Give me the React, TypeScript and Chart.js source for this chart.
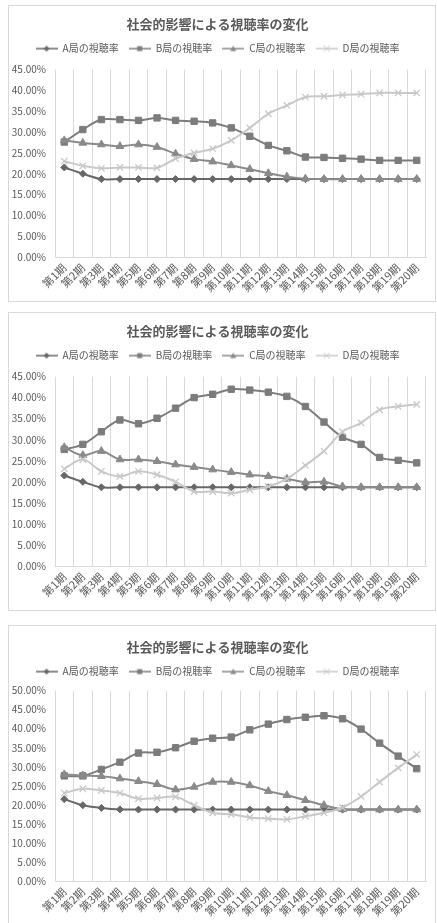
import { useEffect, useRef } from "react";
import { Chart, registerables } from "chart.js";

Chart.register(...registerables);

const FONT = '"Noto Sans CJK JP", "Noto Sans", sans-serif';
const TEXT = "#595959";
const GRID = "#d9d9d9";

const chartTitle = "社会的影響による視聴率の変化";
const seriesNames = ["A局の視聴率", "B局の視聴率", "C局の視聴率", "D局の視聴率"];
const periods = [
  "第1期", "第2期", "第3期", "第4期", "第5期", "第6期", "第7期", "第8期", "第9期", "第10期",
  "第11期", "第12期", "第13期", "第14期", "第15期", "第16期", "第17期", "第18期", "第19期", "第20期",
];

// Scenario 1
const a1 = [21.5, 20.0, 18.7, 18.7, 18.7, 18.7, 18.7, 18.7, 18.7, 18.7, 18.7, 18.7, 18.7, 18.7, 18.7, 18.7, 18.7, 18.7, 18.7, 18.7];
const b1 = [27.6, 30.6, 33.0, 33.0, 32.8, 33.4, 32.8, 32.6, 32.2, 31.0, 29.0, 26.8, 25.5, 24.0, 23.9, 23.7, 23.5, 23.2, 23.2, 23.2];
const c1 = [28.0, 27.4, 27.0, 26.6, 27.0, 26.4, 24.8, 23.5, 22.9, 22.0, 21.1, 20.1, 19.3, 18.8, 18.7, 18.7, 18.7, 18.7, 18.7, 18.7];
const d1 = [23.0, 21.9, 21.3, 21.5, 21.5, 21.4, 23.6, 25.0, 26.0, 28.0, 31.0, 34.4, 36.4, 38.4, 38.6, 38.9, 39.1, 39.4, 39.4, 39.4];

// Scenario 2
const a2 = [21.5, 20.0, 18.7, 18.7, 18.7, 18.7, 18.7, 18.7, 18.7, 18.7, 18.7, 18.7, 18.7, 18.7, 18.7, 18.7, 18.7, 18.7, 18.7, 18.7];
const b2 = [27.7, 28.9, 31.9, 34.7, 33.8, 35.1, 37.5, 40.0, 40.8, 42.0, 41.8, 41.3, 40.3, 37.9, 34.2, 30.6, 28.9, 25.8, 25.1, 24.5];
const c2 = [28.2, 26.3, 27.3, 25.3, 25.3, 24.9, 24.1, 23.5, 22.9, 22.3, 21.7, 21.3, 20.7, 19.9, 20.0, 18.9, 18.7, 18.7, 18.7, 18.7];
const d2 = [23.1, 25.3, 22.5, 21.3, 22.5, 21.7, 20.0, 17.7, 17.7, 17.3, 18.1, 18.9, 20.7, 23.9, 27.3, 31.9, 34.0, 37.1, 37.9, 38.4];

// Scenario 3
const a3 = [21.5, 19.9, 19.2, 18.8, 18.75, 18.75, 18.75, 18.75, 18.75, 18.75, 18.75, 18.75, 18.75, 18.75, 18.75, 18.75, 18.75, 18.75, 18.75, 18.75];
const b3 = [27.6, 27.6, 29.3, 31.2, 33.6, 33.8, 35.0, 36.7, 37.5, 37.8, 39.7, 41.2, 42.4, 43.0, 43.4, 42.6, 39.9, 36.2, 32.8, 29.5];
const c3 = [28.0, 27.7, 27.5, 26.9, 26.2, 25.4, 24.0, 24.7, 26.0, 26.0, 25.1, 23.6, 22.5, 21.2, 19.9, 18.8, 18.75, 18.75, 18.75, 18.75];
const d3 = [23.1, 24.2, 23.8, 23.1, 21.6, 21.8, 22.1, 19.9, 17.9, 17.5, 16.7, 16.4, 16.2, 17.0, 17.9, 19.3, 22.2, 26.0, 29.7, 33.2];

const yMaxes = [45, 45, 50];
const yStep = 5;

const colors = ["#676767", "#7c7c7c", "#8a8a8a", "#c8c8c8"];
const markers = ["rectRot", "rect", "triangle", "crossRot"];
const radii = [3.5, 4.5, 4.5, 4.5];

// Adds extra space between the legend row and the plot area.
const legendGap = {
  id: "legendGap",
  beforeLayout(chart: any, _args: any, opts: any) {
    const legend = chart.legend;
    if (legend && !legend.__gapPatched) {
      const fit = legend.fit.bind(legend);
      legend.fit = function () {
        fit();
        this.height += opts.gap || 0;
      };
      legend.__gapPatched = true;
    }
  },
};

function makeLegendIcon(color: string, marker: string): HTMLCanvasElement {
  const c = document.createElement("canvas");
  c.width = 22;
  c.height = 10;
  const g = c.getContext("2d")!;
  g.strokeStyle = color;
  g.fillStyle = color;
  g.lineWidth = 1.5;
  g.beginPath();
  g.moveTo(0, 5);
  g.lineTo(22, 5);
  g.stroke();
  const cx = 11;
  const cy = 5;
  g.beginPath();
  if (marker === "rectRot") {
    g.moveTo(cx, cy - 3);
    g.lineTo(cx + 3, cy);
    g.lineTo(cx, cy + 3);
    g.lineTo(cx - 3, cy);
    g.closePath();
    g.fill();
  } else if (marker === "rect") {
    g.fillRect(cx - 2.5, cy - 2.5, 5, 5);
  } else if (marker === "triangle") {
    g.moveTo(cx, cy - 3);
    g.lineTo(cx + 3, cy + 2.5);
    g.lineTo(cx - 3, cy + 2.5);
    g.closePath();
    g.fill();
  } else {
    g.lineWidth = 1;
    g.moveTo(cx - 3, cy - 3);
    g.lineTo(cx + 3, cy + 3);
    g.moveTo(cx + 3, cy - 3);
    g.lineTo(cx - 3, cy + 3);
    g.stroke();
  }
  return c;
}

type PanelProps = {
  top: number;
  boxHeight: number;
  bottomBorder: boolean;
  titleTop: number;
  xAxisHeight: number;
  gap: number;
  yMax: number;
  series: number[][];
};

function RatingChart({ top, boxHeight, bottomBorder, titleTop, xAxisHeight, gap, yMax, series }: PanelProps) {
  const ref = useRef<HTMLCanvasElement | null>(null);
  const canvasHeight = boxHeight - 1 - (bottomBorder ? 1 : 0);

  useEffect(() => {
    if (!ref.current) return;
    const icons = colors.map((c, i) => makeLegendIcon(c, markers[i]));
    const chart = new Chart(ref.current, {
      type: "line",
      data: {
        labels: periods,
        datasets: series.map((vals, i) => ({
          label: seriesNames[i],
          data: vals,
          borderColor: colors[i],
          backgroundColor: colors[i],
          pointBackgroundColor: colors[i],
          pointBorderColor: colors[i],
          pointStyle: markers[i] as any,
          pointRadius: radii[i],
          pointBorderWidth: i === 3 ? 1.3 : 1,
          borderWidth: 2,
          tension: 0.35,
          fill: false,
          order: 3 - i,
        })),
      },
      options: {
        responsive: false,
        animation: false,
        layout: { padding: { top: 0, left: 0, right: 9, bottom: 0 } },
        plugins: {
          tooltip: { enabled: false },
          title: {
            display: true,
            text: chartTitle,
            color: TEXT,
            font: { family: FONT, size: 13, weight: "bold" },
            padding: { top: titleTop, bottom: 2 },
          },
          legend: {
            display: true,
            position: "top",
            labels: {
              usePointStyle: true,
              pointStyleWidth: 22,
              padding: 10,
              color: TEXT,
              font: { family: FONT, size: 10 },
              generateLabels: (ch: any) =>
                ch.data.datasets.map((ds: any, i: number) => ({
                  text: ds.label,
                  pointStyle: icons[i],
                  fillStyle: colors[i],
                  strokeStyle: colors[i],
                  lineWidth: 0,
                  hidden: false,
                  datasetIndex: i,
                  fontColor: TEXT,
                })),
            },
          },
          legendGap: { gap },
        } as any,
        scales: {
          x: {
            offset: true,
            grid: { offset: true, color: GRID, lineWidth: 1, drawTicks: false },
            border: { display: true, color: GRID },
            ticks: {
              autoSkip: false,
              minRotation: 45,
              maxRotation: 45,
              padding: 4,
              color: TEXT,
              font: { family: FONT, size: 11 },
            },
            afterFit: (s: any) => {
              s.height = xAxisHeight;
            },
          },
          y: {
            min: 0,
            max: yMax,
            grid: { display: false, drawTicks: false },
            border: { display: false },
            ticks: {
              stepSize: yStep,
              padding: 9,
              color: TEXT,
              font: { family: FONT, size: 10 },
              callback: (v: any) => `${Number(v).toFixed(2)}%`,
            },
            afterFit: (s: any) => {
              s.width = 46;
            },
          },
        },
      },
      plugins: [legendGap as any],
    });
    return () => chart.destroy();
  }, []);

  return (
    <div
      style={{
        position: "absolute",
        left: 8,
        top,
        width: 428,
        height: boxHeight,
        boxSizing: "border-box",
        border: `1px solid ${GRID}`,
        borderBottom: bottomBorder ? `1px solid ${GRID}` : "none",
        background: "#fff",
      }}
    >
      <canvas ref={ref} width={426} height={canvasHeight} style={{ display: "block" }} />
    </div>
  );
}

export default function App() {
  return (
    <div style={{ position: "absolute", left: 0, top: 0, width: 437, height: 923, background: "#fff", overflow: "hidden" }}>
      <RatingChart top={5} boxHeight={297} bottomBorder={true} titleTop={10} xAxisHeight={44} gap={6} yMax={yMaxes[0]} series={[a1, b1, c1, d1]} />
      <RatingChart top={312} boxHeight={299} bottomBorder={true} titleTop={10} xAxisHeight={44} gap={6} yMax={yMaxes[1]} series={[a2, b2, c2, d2]} />
      <RatingChart top={625} boxHeight={298} bottomBorder={false} titleTop={13} xAxisHeight={42} gap={4} yMax={yMaxes[2]} series={[a3, b3, c3, d3]} />
    </div>
  );
}
